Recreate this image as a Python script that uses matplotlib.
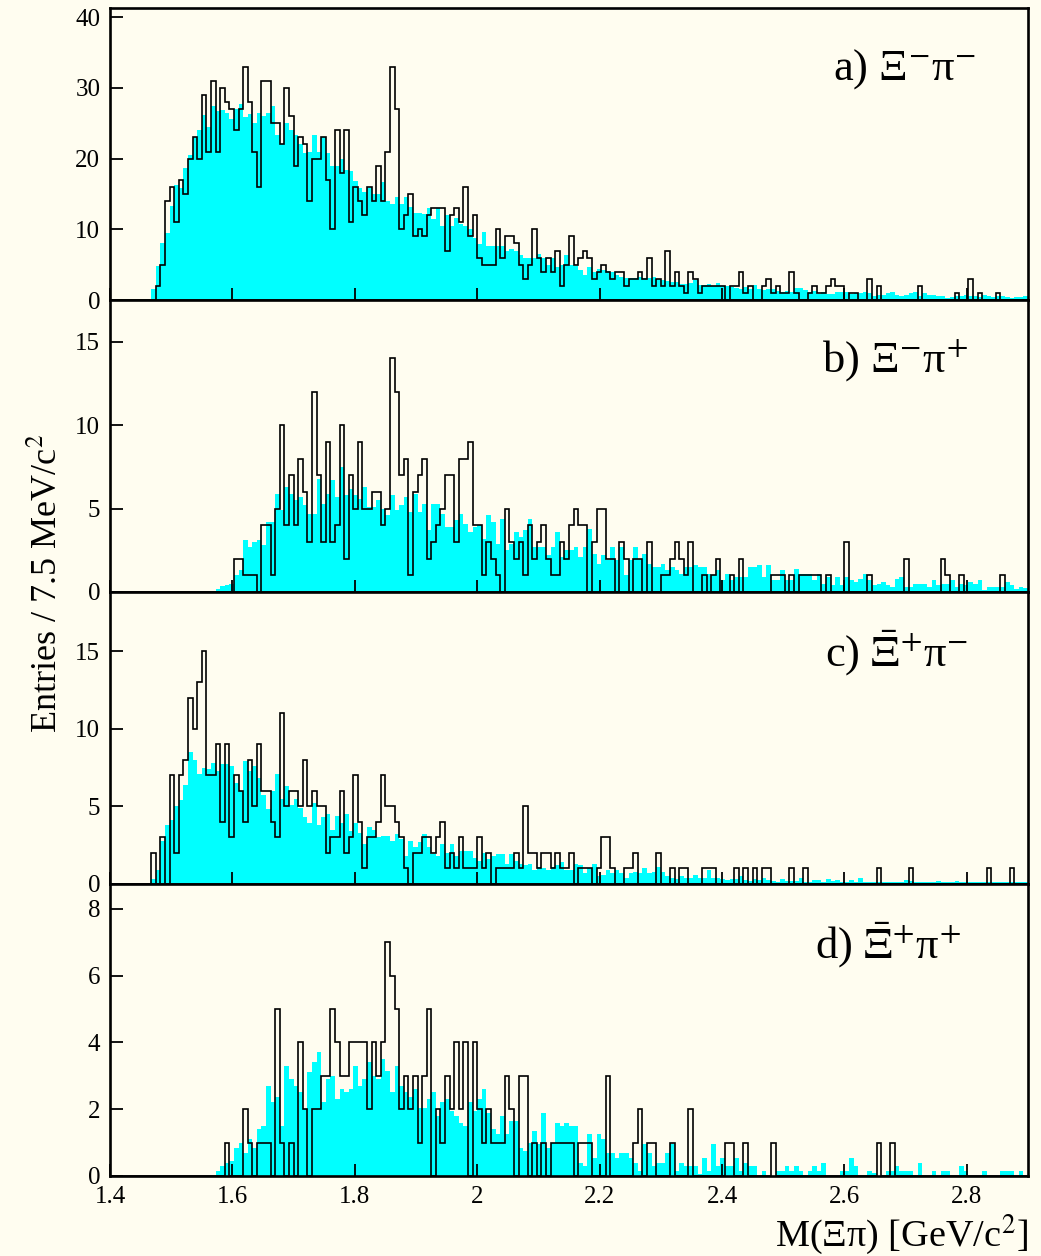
import numpy as np
import matplotlib
matplotlib.use('Agg')
import matplotlib.pyplot as plt

plt.rcParams['font.family'] = ['Liberation Serif', 'DejaVu Serif']
plt.rcParams['mathtext.fontset'] = 'stix'

# ---------------- binning ----------------
X_MIN, X_MAX, BIN_W = 1.4, 2.9, 0.0075
N_BINS = 200

# ---------------- data (entries per 7.5 MeV bin) ----------------
a_data = [
    0, 0, 0, 0, 0, 0, 0, 0, 0, 0, 2, 5, 14, 16, 11, 17, 15, 20, 23, 20,
    29, 21, 31, 21, 30, 28, 27, 24, 27, 33, 28, 21, 16, 31, 31, 25, 25, 22, 30, 26,
    19, 23, 22, 14, 20, 20, 23, 17, 10, 24, 18, 24, 11, 16, 14, 12, 16, 14, 19, 14,
    21, 33, 27, 10, 12, 15, 9, 10, 9, 12, 13, 13, 13, 7, 12, 13, 11, 16, 9, 12,
    6, 5, 5, 5, 10, 6, 9, 9, 8, 5, 3, 5, 10, 6, 4, 6, 4, 7, 2, 5,
    9, 5, 6, 7, 6, 3, 4, 5, 4, 3, 4, 4, 2, 3, 3, 4, 3, 6, 2, 3,
    2, 7, 2, 4, 2, 1, 4, 3, 1, 2, 2, 2, 2, 2, 0, 2, 2, 4, 1, 2,
    0, 0, 2, 3, 1, 2, 1, 1, 4, 1, 0, 0, 1, 2, 1, 1, 2, 3, 2, 2,
    0, 1, 1, 0, 0, 3, 0, 2, 0, 0, 0, 0, 0, 0, 0, 0, 2, 0, 0, 0,
    0, 0, 0, 0, 1, 0, 0, 3, 0, 1, 0, 0, 0, 1, 0, 0, 0, 0, 0, 0,
]
a_bkg = [
    0, 0, 0, 0, 0, 0, 0, 0, 0, 1.5, 4.8, 8, 9.5, 13.3, 16.3, 15.9, 18.6, 20.5, 23.1, 24,
    26.2, 24.5, 27.5, 26.7, 26.9, 26.4, 25.6, 27, 27.7, 25.9, 26.3, 25, 26.4, 26, 26.4, 27.5, 23.3, 22, 25, 24,
    23.3, 22, 20.8, 21, 23.3, 21, 23.1, 20.8, 19, 19, 19.9, 18.4, 18.2, 16.8, 15.9, 15.3, 15.9, 15, 15, 16.7,
    14, 13.6, 14.5, 13.6, 14.5, 13.2, 12.3, 12.3, 12.1, 13, 11.4, 13, 10.4, 12, 10.5, 11.6, 10.7, 10.5, 10.1, 8.7,
    7.9, 9.6, 7.6, 7.7, 7.6, 7.7, 7.0, 7.2, 6.9, 6.4, 6.0, 6.0, 6.0, 6.5, 6.0, 4.9, 6.0, 4.6, 4.9, 6.3,
    4.9, 4.8, 4.2, 3.6, 4.6, 3.9, 4.4, 4.2, 4.1, 3.9, 3.6, 3.3, 3.1, 3.1, 3.1, 3.3, 3.1, 3.1, 3.3, 3.0,
    2.8, 2.7, 2.6, 2.6, 2.3, 2.3, 2.4, 2.8, 2.1, 2.1, 2.3, 2.0, 2.4, 2.0, 2.0, 1.9, 1.7, 1.6, 1.8, 1.5,
    2.1, 1.6, 1.4, 1.5, 1.6, 1.3, 1.2, 1.3, 1.1, 1.7, 1.7, 1.4, 1.2, 1.3, 0.9, 1.1, 0.9, 0.9, 1.2, 1.2,
    1.2, 0.9, 1.0, 0.95, 1.2, 0.95, 0.6, 0.7, 0.75, 1.0, 1.1, 0.7, 0.6, 0.75, 1.0, 1.1, 0.5, 0.95, 0.75, 0.7,
    0.6, 0.5, 0.3, 0.4, 0.6, 0.5, 0.75, 0.5, 0.6, 0.4, 0.75, 0.5, 0.4, 0.5, 0.6, 0.4, 0.3, 0.4, 0.4, 0.6,
]

b_data = [
    0, 0, 0, 0, 0, 0, 0, 0, 0, 0, 0, 0, 0, 0, 0, 0, 0, 0, 0, 0,
    0, 0, 0, 0, 0, 0, 0, 2, 2, 1, 1, 1, 0, 4, 4, 1, 5, 10, 4, 7,
    4, 8, 6, 3, 12, 7, 3, 9, 3, 4, 10, 2, 7, 5, 9, 5, 5, 6, 6, 4,
    5, 14, 12, 7, 8, 1, 6, 7, 8, 2, 3, 4, 5, 7, 7, 3, 8, 8, 9, 4,
    4, 1, 3, 2, 1, 0, 5, 3, 2, 3, 1, 4, 2, 3, 4, 2, 1, 1, 3, 2,
    4, 5, 4, 4, 0, 3, 5, 5, 2, 2, 0, 3, 2, 0, 2, 2, 0, 3, 0, 0,
    1, 1, 2, 3, 2, 1, 3, 0, 0, 1, 0, 1, 2, 0, 0, 1, 0, 2, 0, 0,
    0, 0, 0, 0, 1, 1, 1, 0, 1, 0, 1, 1, 1, 1, 1, 0, 1, 0, 0, 0,
    3, 0, 0, 0, 0, 1, 0, 0, 0, 0, 0, 0, 0, 2, 0, 0, 0, 0, 0, 0,
    0, 2, 1, 0, 0, 1, 0, 0, 0, 0, 0, 0, 0, 0, 1, 0, 0, 0, 0, 0,
]
b_bkg = [
    0, 0, 0, 0, 0, 0, 0, 0, 0, 0, 0, 0, 0, 0, 0, 0, 0, 0, 0, 0,
    0, 0, 0, 0.2, 0.35, 0.4, 0.5, 1.0, 1.3, 3.1, 2.7, 3.0, 3.1, 2.8, 4.2, 4.2, 5.9, 4.9, 6.3, 5.9,
    5.5, 5.7, 5.2, 4.7, 4.7, 6.8, 5.3, 5.9, 6.7, 5.7, 7.5, 5.8, 6.2, 5.8, 5.6, 6.3, 5.1, 5.1, 5.5, 5.0,
    4.6, 5.8, 4.9, 5.2, 5.7, 4.8, 5.9, 4.8, 5.3, 3.7, 5.3, 5.3, 4.7, 3.9, 3.9, 4.3, 4.7, 4.1, 3.6, 3.9,
    4.0, 3.2, 4.6, 4.2, 2.9, 4.4, 2.5, 2.9, 3.6, 3.3, 3.7, 4.4, 2.7, 2.7, 2.7, 2.2, 2.7, 3.6, 2.1, 2.5,
    2.5, 2.7, 2.1, 2.7, 3.8, 2.3, 1.7, 2.2, 1.9, 2.7, 1.9, 2.7, 1.0, 1.9, 2.7, 2.0, 2.3, 1.7, 1.5, 1.5,
    1.7, 1.3, 1.5, 1.3, 1.1, 1.5, 1.5, 1.6, 1.5, 1.5, 1.1, 1.0, 1.3, 0.7, 1.1, 0.7, 0.9, 0.9, 0.9, 1.5,
    1.5, 1.6, 0.9, 1.6, 0.7, 0.7, 1.3, 0.7, 0.7, 1.4, 1.1, 1.1, 1.1, 0.7, 1.1, 0.5, 0.9, 0.4, 0.9, 0.4,
    0.9, 0.7, 0.6, 0.8, 1.1, 0.7, 0.4, 0.5, 0.6, 0.4, 0.3, 0.8, 0.9, 0.3, 0.3, 0.5, 0.5, 0.5, 0.3, 0.7,
    0.4, 0.5, 0.5, 0.7, 0.3, 0.5, 0.4, 0.6, 0.5, 0.7, 0.1, 0.3, 0.3, 0.3, 0.3, 0.6, 0.4, 0.2, 0.3, 0.25,
]

c_data = [
    0, 0, 0, 0, 0, 0, 0, 0, 0, 2, 0, 3, 0, 7, 2, 7, 8, 12, 10, 13,
    15, 7, 7, 9, 4, 9, 3, 7, 6, 4, 8, 5, 9, 6, 6, 4, 3, 11, 5, 6,
    6, 5, 8, 5, 6, 5, 5, 2, 3, 3, 6, 2, 3, 7, 4, 1, 3, 3, 4, 7,
    5, 5, 4, 3, 1, 0, 2, 2, 3, 3, 2, 3, 4, 1, 2, 1, 3, 1, 1, 1,
    3, 1, 2, 0, 1, 1, 1, 1, 2, 1, 5, 2, 2, 1, 2, 2, 1, 2, 1, 1,
    2, 0, 1, 1, 1, 0, 1, 3, 3, 1, 0, 0, 1, 1, 2, 0, 0, 0, 0, 2,
    0, 0, 1, 0, 1, 1, 0, 0, 0, 1, 1, 1, 0, 0, 0, 0, 1, 0, 1, 0,
    1, 0, 1, 1, 0, 0, 0, 0, 1, 0, 0, 1, 0, 0, 0, 0, 0, 0, 0, 0,
    0, 0, 0, 0, 0, 0, 0, 1, 0, 0, 0, 0, 0, 0, 1, 0, 0, 0, 0, 0,
    0, 0, 0, 0, 0, 0, 0, 0, 0, 0, 0, 1, 0, 0, 0, 0, 1, 0, 0, 0,
]
c_bkg = [
    0, 0, 0, 0, 0, 0, 0, 0, 0, 0.3, 0.9, 2.8, 3.8, 4.1, 5.0, 5.4, 6.4, 8.5, 8.0, 7.1,
    7.5, 7.4, 7.8, 7.3, 7.7, 7.7, 7.6, 6.5, 6.0, 7.9, 7.3, 7.6, 6.8, 5.7, 4.8, 6.0, 7.1, 5.5, 6.3, 5.1,
    5.5, 4.9, 4.3, 3.9, 5.2, 3.8, 4.3, 4.5, 3.5, 4.4, 3.9, 4.5, 3.4, 3.9, 3.3, 2.6, 3.7, 3.5, 3.0, 3.1,
    3.1, 2.8, 3.2, 2.9, 1.8, 2.8, 2.4, 2.7, 3.2, 2.4, 1.9, 1.8, 2.6, 2.0, 2.6, 1.8, 2.1, 2.1, 2.1, 1.7,
    1.5, 2.0, 1.6, 1.8, 1.9, 1.9, 1.3, 1.9, 1.5, 1.3, 1.2, 1.3, 0.9, 1.1, 1.0, 0.9, 1.1, 1.2, 1.4, 0.9,
    0.9, 1.3, 1.2, 0.7, 1.0, 1.3, 0.5, 0.6, 0.9, 0.7, 0.9, 0.7, 0.4, 0.7, 0.8, 0.7, 1.0, 0.7, 0.8, 1.1,
    0.8, 0.5, 0.4, 0.3, 0.5, 0.4, 0.4, 0.6, 0.4, 0.4, 0.9, 0.4, 0.4, 0.3, 0.25, 0.3, 0.3, 0.5, 0.25, 0.2,
    0.3, 0.25, 0.4, 0.25, 0.2, 0.15, 0.3, 0.2, 0.2, 0.2, 0.4, 0.15, 0.15, 0.25, 0.25, 0.15, 0.3, 0.2, 0.25, 0.15,
    0.15, 0.25, 0.15, 0.4, 0.1, 0.1, 0.15, 0.1, 0.1, 0.1, 0.1, 0.1, 0.1, 0.25, 0.2, 0.1, 0.1, 0.1, 0.1, 0.1,
    0.2, 0.1, 0.1, 0.1, 0.2, 0.1, 0.1, 0.1, 0.1, 0.1, 0.15, 0.15, 0.1, 0.1, 0.1, 0.1, 0.1, 0.1, 0.1, 0.1,
]

d_data = [
    0, 0, 0, 0, 0, 0, 0, 0, 0, 0, 0, 0, 0, 0, 0, 0, 0, 0, 0, 0,
    0, 0, 0, 0, 0, 1, 0, 0, 0, 2, 1, 0, 1, 1, 1, 0, 5, 1, 0, 1,
    0, 4, 2, 0, 2, 2, 3, 3, 5, 4, 3, 3, 4, 4, 4, 4, 2, 4, 3, 4,
    7, 6, 5, 2, 3, 2, 3, 1, 3, 5, 0, 2, 1, 3, 2, 4, 2, 4, 0, 4,
    2, 1, 2, 1, 1, 1, 3, 2, 0, 3, 3, 0, 1, 0, 1, 0, 1, 1, 1, 1,
    1, 0, 1, 1, 1, 0, 0, 0, 3, 0, 0, 0, 0, 0, 1, 2, 0, 1, 1, 0,
    0, 0, 1, 0, 0, 0, 2, 0, 0, 0, 0, 0, 0, 0, 1, 1, 0, 0, 1, 0,
    0, 0, 0, 0, 1, 0, 0, 0, 0, 0, 0, 0, 0, 0, 0, 0, 0, 0, 0, 0,
    0, 0, 0, 0, 0, 0, 0, 1, 0, 0, 1, 0, 0, 0, 0, 0, 0, 0, 0, 0,
    0, 0, 0, 0, 0, 0, 0, 0, 0, 0, 0, 0, 0, 0, 0, 0, 0, 0, 0, 0,
]
d_bkg = [
    0, 0, 0, 0, 0, 0, 0, 0, 0, 0, 0, 0, 0, 0, 0, 0, 0, 0, 0, 0,
    0, 0, 0, 0.15, 0.3, 0.4, 0.45, 0.85, 1.0, 0.7, 1.1, 0.85, 1.4, 1.5, 2.7, 2.2, 2.35, 1.5, 3.3, 2.9,
    2.7, 2.5, 2.0, 3.1, 3.4, 3.7, 2.2, 2.9, 3.0, 2.3, 2.6, 2.5, 2.6, 3.3, 2.7, 2.9, 3.4, 3.0, 2.9, 3.5,
    3.15, 2.5, 3.3, 2.7, 2.5, 2.35, 2.6, 2.05, 2.05, 2.3, 2.5, 1.8, 2.2, 2.3, 1.95, 1.8, 1.6, 1.5, 2.2, 1.95,
    2.3, 2.6, 1.9, 1.4, 1.25, 1.8, 1.25, 1.65, 1.65, 0.85, 0.75, 1.0, 1.35, 0.95, 1.9, 0.85, 1.0, 1.6, 1.5, 1.6,
    1.5, 1.5, 0.4, 0.3, 1.25, 0.55, 1.25, 1.1, 0.7, 0.7, 0.55, 0.7, 0.7, 0.55, 0.4, 0.15, 0.95, 0.7, 0.3, 0.4,
    0.4, 0.7, 0.95, 0.15, 0.4, 0.3, 0.3, 0.3, 0.06, 0.55, 0.15, 0.95, 0.3, 0.55, 0.3, 0.3, 0.55, 0.15, 0.4, 0.3,
    0.3, 0, 0.15, 0, 0, 0.15, 0.15, 0.3, 0.15, 0.3, 0.15, 0, 0.15, 0.3, 0.15, 0.4, 0, 0, 0, 0.15,
    0.15, 0.55, 0.3, 0, 0, 0.15, 0.1, 0, 0, 0.15, 0.15, 0.3, 0.15, 0.15, 0.15, 0, 0.4, 0, 0, 0.15,
    0, 0.15, 0.15, 0, 0, 0.3, 0.15, 0, 0, 0, 0.15, 0, 0, 0, 0.15, 0.15, 0.15, 0, 0.15, 0,
]

panel_labels = ['a) Ξ$^{-}$π$^{-}$', 'b) Ξ$^{-}$π$^{+}$',
                r'c) $\bar{\Xi}^{+}$π$^{-}$', r'd) $\bar{\Xi}^{+}$π$^{+}$']
y_max = [41.3, 17.5, 18.8, 8.74]
y_ticks = [[0, 10, 20, 30, 40], [0, 5, 10, 15], [0, 5, 10, 15], [0, 2, 4, 6, 8]]
x_ticks = [1.4, 1.6, 1.8, 2.0, 2.2, 2.4, 2.6, 2.8]
x_tick_labels = ['1.4', '1.6', '1.8', '2', '2.2', '2.4', '2.6', '2.8']
y_title = r'Entries / 7.5 MeV/c$^{2}$'
x_title = r'M(Ξπ) [GeV/c$^{2}$]'

# ---------------- figure ----------------
BG = '#fffdf0'
CYAN = '#00ffff'
W, H = 1041, 1256
fig = plt.figure(figsize=(W / 100, H / 100), dpi=100, facecolor=BG)

edges = X_MIN + BIN_W * np.arange(N_BINS + 1)
datas = [a_data, b_data, c_data, d_data]
bkgs = [a_bkg, b_bkg, c_bkg, d_bkg]

left_px, right_px = 110, 1028
tops_px = [8, 300, 592, 884]
panel_h = 292
label_x = [833, 822, 825, 815]

for k in range(4):
    ax = fig.add_axes([left_px / W, 1 - (tops_px[k] + panel_h) / H,
                       (right_px - left_px) / W, panel_h / H])
    ax.set_facecolor(BG)
    ax.stairs(bkgs[k], edges, fill=True, color=CYAN, linewidth=0)
    ax.stairs(datas[k], edges, color='black', linewidth=1.2, baseline=0)
    ax.set_xlim(X_MIN, X_MAX)
    ax.set_ylim(0, y_max[k])
    ax.set_yticks(y_ticks[k])
    ax.set_yticklabels([str(t) for t in y_ticks[k]])
    ax.set_xticks(x_ticks)
    if k == 3:
        ax.set_xticklabels(x_tick_labels)
    else:
        ax.set_xticklabels([])
    ax.tick_params(axis='both', direction='in', length=9, width=1.3,
                   labelsize=18, pad=7, top=False, right=False)
    for sp in ax.spines.values():
        sp.set_linewidth(1.9)
    ax.text((label_x[k] - left_px) / (right_px - left_px), 0.79, panel_labels[k],
            transform=ax.transAxes, fontsize=32, ha='left', va='center')

fig.text(48 / W, 1 - 583 / H, y_title, rotation=90, fontsize=26,
         ha='center', va='center')
fig.text(1028 / W, 1 - 1234 / H, x_title, fontsize=27.5, ha='right', va='center')

fig.savefig('out.png', dpi=100, facecolor=BG)
